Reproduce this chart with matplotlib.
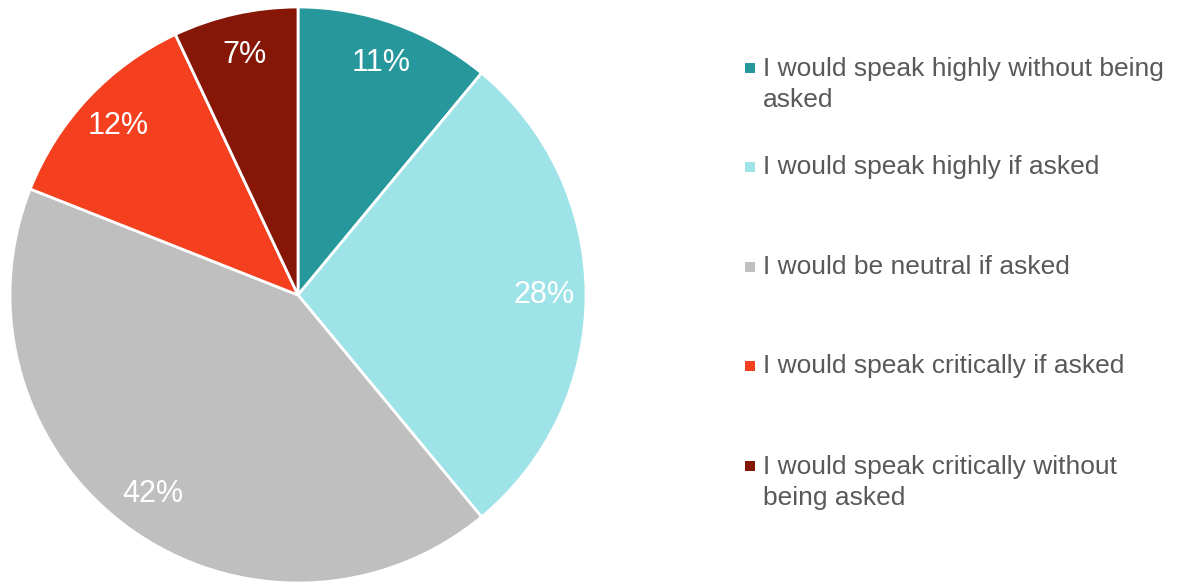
import matplotlib
matplotlib.use("Agg")
import matplotlib.pyplot as plt
from matplotlib.patches import Rectangle

categories = [
    "I would speak highly without being\nasked",
    "I would speak highly if asked",
    "I would be neutral if asked",
    "I would speak critically if asked",
    "I would speak critically without\nbeing asked",
]
values = [11, 28, 42, 12, 7]
colors = ["#26989C", "#9EE3E8", "#BFBFBF", "#F4401E", "#861606"]

W, H = 1189, 582
fig = plt.figure(figsize=(W / 100, H / 100), dpi=100)
plt.rcParams['font.family'] = ['Liberation Sans', 'DejaVu Sans']

# pie axes: center (298,295), radius 288 px
cx, cy, r = 298, 295, 288
ax = fig.add_axes([(cx - r) / W, (H - cy - r) / H, 2 * r / W, 2 * r / H])
wedges, texts, autotexts = ax.pie(
    values, colors=colors, startangle=90, counterclock=False,
    autopct=lambda p: f"{p:.0f}%", pctdistance=0.855,
    wedgeprops=dict(edgecolor="white", linewidth=2),
    textprops=dict(color="white", fontsize=22),
)
ax.set_xlim(-1, 1)
ax.set_ylim(-1, 1)
ax.set_aspect("equal")
ax.axis("off")

# legend (first-line baselines in pixels from top)
baselines = [75, 174, 274, 373, 473]
line_gap = 32
for lab, col, b in zip(categories, colors, baselines):
    fig.patches.append(Rectangle((745 / W, (H - b + 2) / H), 10 / W, 10 / H,
                                 transform=fig.transFigure, facecolor=col,
                                 edgecolor="none"))
    nl = lab.count("\n")
    fig.text(763 / W, (H - b - line_gap * nl) / H, lab, fontsize=19,
             color="#595959", va="baseline", ha="left", linespacing=1.38)

fig.savefig("out.png", dpi=100)
